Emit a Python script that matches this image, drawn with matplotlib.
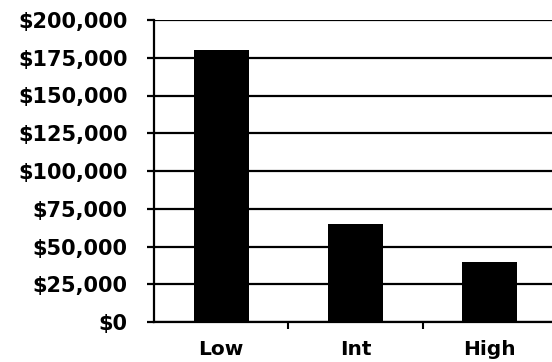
import matplotlib as mpl
mpl.use('agg')
import matplotlib.pyplot as plt
from matplotlib.ticker import FuncFormatter, MultipleLocator

categories = ['Low', 'Int', 'High']
values = [180000, 65000, 40000]

plt.rcParams['font.family'] = ['DejaVu Sans']
plt.rcParams['font.weight'] = 'bold'

fig = plt.figure(figsize=(5.52, 3.62), dpi=100)
ax = fig.add_axes([154 / 552, 40 / 362, 403 / 552, 302 / 362])

x = range(len(categories))
ax.bar(x, values, width=0.41, color='black', zorder=3)

ax.set_xlim(-0.5, 2.5)
ax.set_ylim(0, 200000)
ax.yaxis.set_major_locator(MultipleLocator(25000))
ax.yaxis.set_major_formatter(FuncFormatter(lambda v, p: '${:,.0f}'.format(v)))
ax.yaxis.grid(True, color='black', linewidth=1.6, zorder=1)
ax.set_axisbelow(True)

ax.set_xticks(list(x))
ax.set_xticklabels(categories)
ax.set_xticks([0.5, 1.5], minor=True)
ax.tick_params(axis='x', which='major', length=0, pad=13, labelsize=14.5)
ax.tick_params(axis='x', which='minor', length=5, width=1.5, direction='out')
ax.tick_params(axis='y', length=5, width=1.6, pad=14, labelsize=15)

for s in ['top', 'right']:
    ax.spines[s].set_visible(False)
ax.spines['left'].set_linewidth(1.6)
ax.spines['bottom'].set_linewidth(1.6)

fig.savefig('out.png', dpi=100)
